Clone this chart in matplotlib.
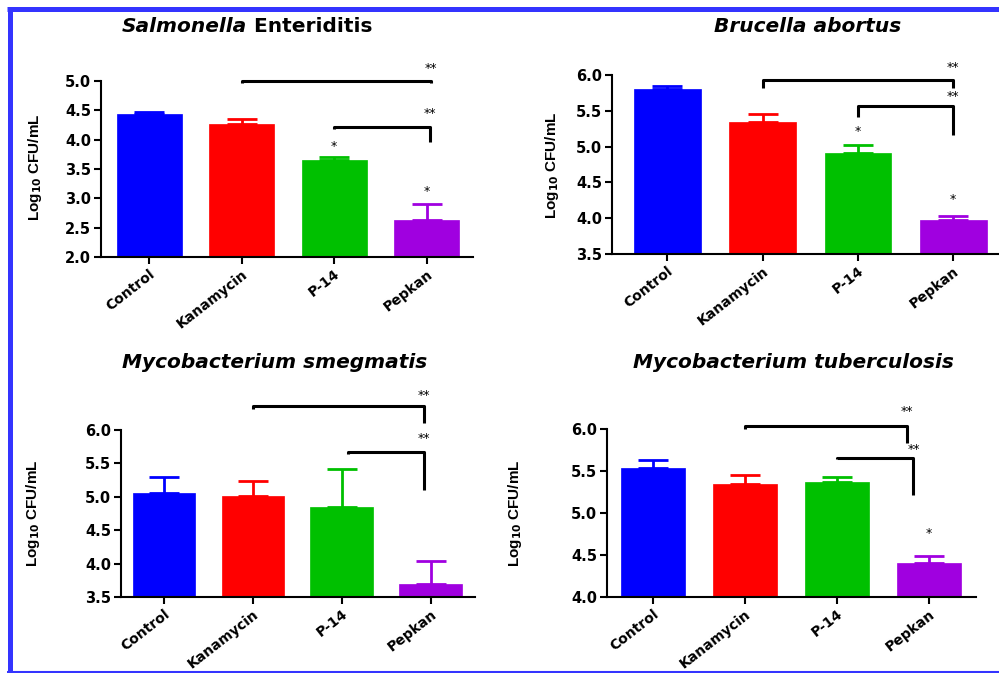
import numpy as np
import matplotlib
matplotlib.use('Agg')
import matplotlib.pyplot as plt
from matplotlib.lines import Line2D

# groups and bar colours
categories = ['Control', 'Kanamycin', 'P-14', 'Pepkan']
bar_colors = ['#0000ff', '#ff0000', '#00c000', '#a000e0']

# mean log10 CFU/mL and upper error
salmonella_mean = [4.43, 4.27, 3.65, 2.63]
salmonella_err = [0.05, 0.09, 0.06, 0.28]
brucella_mean = [5.80, 5.35, 4.91, 3.97]
brucella_err = [0.05, 0.11, 0.11, 0.06]
smegmatis_mean = [5.06, 5.01, 4.85, 3.69]
smegmatis_err = [0.24, 0.23, 0.57, 0.35]
tuberculosis_mean = [5.53, 5.35, 5.37, 4.41]
tuberculosis_err = [0.10, 0.10, 0.06, 0.08]

# significance brackets: x_left, x_right, y_bar, y_left_end, y_right_end, y_text
salmonella_brackets = [(1, 3.05, 5.00, 4.97, 4.97, 5.21),
                       (2, 3.03, 4.22, 4.19, 3.96, 4.44)]
brucella_brackets = [(1, 3, 5.93, 5.82, 5.82, 6.10),
                     (2, 3, 5.57, 5.42, 5.16, 5.70)]
smegmatis_brackets = [(1, 2.93, 6.36, 6.31, 6.10, 6.52),
                      (2.07, 2.93, 5.665, 5.64, 5.10, 5.875)]
tuberculosis_brackets = [(1, 2.76, 6.04, 6.00, 5.83, 6.21),
                         (2, 2.83, 5.66, 5.64, 5.21, 5.75)]

# single stars: x, y
salmonella_stars = [(2, 3.89), (3, 3.12)]
brucella_stars = [(2, 5.21), (3, 4.26)]
smegmatis_stars = []
tuberculosis_stars = [(3, 4.75)]

W, H = 999, 673
fig = plt.figure(figsize=(W / 100, H / 100), dpi=100)
fig.patch.set_facecolor('white')


def px_axes(left, right, top, bottom):
    return fig.add_axes([left / W, 1 - bottom / H, (right - left) / W, (bottom - top) / H])


def plot_panel(ax, means, errs, ylim, ticks, xlim, brackets, stars):
    x = np.arange(len(categories))
    ax.bar(x, means, width=0.7, color=bar_colors, edgecolor=bar_colors,
           linewidth=0.5, zorder=2)
    for xi, m, e, c in zip(x, means, errs, bar_colors):
        ax.errorbar(xi, m, yerr=[[0], [e]], color=c, capsize=11,
                    elinewidth=2, capthick=2, zorder=3)
    ax.set_ylim(*ylim)
    ax.set_xlim(*xlim)
    ax.set_yticks(ticks)
    ax.set_yticklabels(['%.1f' % t for t in ticks], fontsize=10.5,
                       fontweight='bold', family='DejaVu Sans')
    ax.set_xticks(x)
    ax.set_xticklabels(categories, rotation=38, ha='right', rotation_mode='anchor',
                       fontsize=10, fontweight='bold', family='DejaVu Sans')
    for s in ['top', 'right']:
        ax.spines[s].set_visible(False)
    for s in ['left', 'bottom']:
        ax.spines[s].set_linewidth(1.5)
    ax.tick_params(direction='out', length=5, width=1.5, pad=2)
    for xl, xr, yb, yl, yr, yt in brackets:
        ax.plot([xl, xl, xr, xr], [yl, yb, yb, yr], color='black', lw=2.2,
                clip_on=False, solid_capstyle='butt', zorder=4)
        ax.text(xr, yt, '**', ha='center', va='center', fontsize=9, clip_on=False)
    for xs, ys in stars:
        ax.text(xs, ys, '*', ha='center', va='center', fontsize=9)


ax1 = px_axes(101, 473, 81, 257)
plot_panel(ax1, salmonella_mean, salmonella_err, (2.0, 5.0),
           [2.0, 2.5, 3.0, 3.5, 4.0, 4.5, 5.0], (-0.52, 3.5),
           salmonella_brackets, salmonella_stars)

ax2 = px_axes(612, 999, 75, 254)
plot_panel(ax2, brucella_mean, brucella_err, (3.5, 6.0),
           [3.5, 4.0, 4.5, 5.0, 5.5, 6.0], (-0.58, 3.48),
           brucella_brackets, brucella_stars)

ax3 = px_axes(121, 475, 430, 597)
plot_panel(ax3, smegmatis_mean, smegmatis_err, (3.5, 6.0),
           [3.5, 4.0, 4.5, 5.0, 5.5, 6.0], (-0.48, 3.5),
           smegmatis_brackets, smegmatis_stars)

ax4 = px_axes(607, 976, 429, 597)
plot_panel(ax4, tuberculosis_mean, tuberculosis_err, (4.0, 6.0),
           [4.0, 4.5, 5.0, 5.5, 6.0], (-0.5, 3.51),
           tuberculosis_brackets, tuberculosis_stars)

# y labels
ylab = r'Log$_{\mathbf{10}}$ CFU/mL'
for px, py in [(35, 167), (552, 165), (33, 513), (515, 513)]:
    fig.text(px / W, 1 - py / H, ylab, rotation=90, ha='center', va='center',
             fontsize=11, fontweight='bold', family='Liberation Sans')

# titles
tfont = dict(fontsize=14.5, fontweight='bold', family='DejaVu Sans')
t1 = fig.text(122 / W, 1 - 27 / H, 'Salmonella', ha='left', va='center',
              style='italic', **tfont)
fig.canvas.draw()
ax1.annotate(' Enteriditis', xy=(1, 0), xycoords=t1, va='bottom', ha='left', **tfont)
fig.text(808 / W, 1 - 27 / H, 'Brucella abortus', ha='center', va='center',
         style='italic', **tfont)
fig.text(275 / W, 1 - 362 / H, 'Mycobacterium smegmatis', ha='center', va='center',
         style='italic', **tfont)
fig.text(793 / W, 1 - 362 / H, 'Mycobacterium tuberculosis', ha='center', va='center',
         style='italic', **tfont)

# blue frame
frame = '#3434ff'
fig.add_artist(Line2D([7 / W, 1], [1 - 9 / H, 1 - 9 / H], color=frame, lw=3.6,
                      transform=fig.transFigure, solid_capstyle='butt'))
fig.add_artist(Line2D([9.5 / W, 9.5 / W], [1 - 7 / H, 1 - 672 / H], color=frame, lw=3.6,
                      transform=fig.transFigure, solid_capstyle='butt'))
fig.add_artist(Line2D([7 / W, 1], [1 - 671.5 / H, 1 - 671.5 / H], color=frame, lw=1.5,
                      transform=fig.transFigure, solid_capstyle='butt'))

fig.savefig('out.png', dpi=100)
